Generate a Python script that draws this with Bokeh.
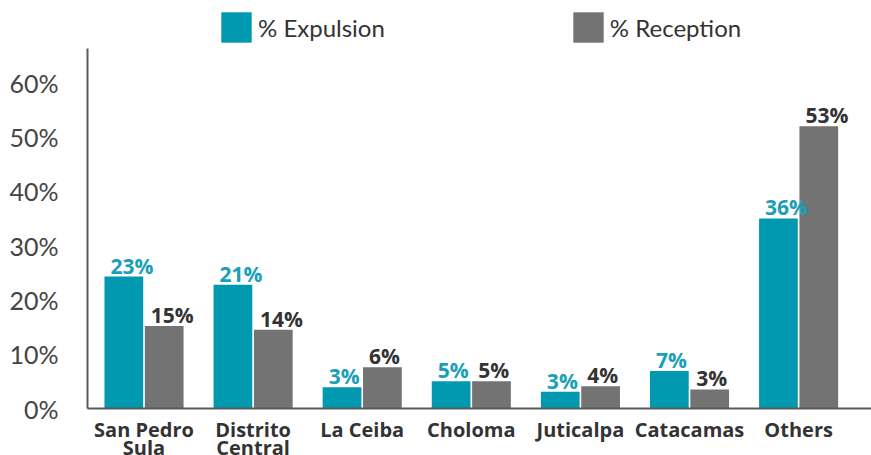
from bokeh.plotting import figure
from bokeh.models import (ColumnDataSource, Range1d, FixedTicker, NumeralTickFormatter,
                          Legend, LegendItem)
from bokeh.transform import dodge
from bokeh.core.properties import value
from bokeh.embed import file_html
from bokeh.resources import INLINE

# ---- data ----
categories = ["San Pedro\nSula", "Distrito\nCentral", "La Ceiba", "Choloma",
              "Juticalpa", "Catacamas", "Others"]
expulsion = [0.243, 0.228, 0.039, 0.050, 0.031, 0.069, 0.350]
reception = [0.152, 0.145, 0.076, 0.050, 0.041, 0.035, 0.520]
expulsion_labels = ["23%", "21%", "3%", "5%", "3%", "7%", "36%"]
reception_labels = ["15%", "14%", "6%", "5%", "4%", "3%", "53%"]
y_ticks = [0, 0.1, 0.2, 0.3, 0.4, 0.5, 0.6]

TEAL = "#0099b0"
GRAY = "#737373"
FONT = "Lato"
BOLD = "Open Sans"

idx = list(range(len(categories)))
src = ColumnDataSource(dict(x=idx, exp=expulsion, rec=reception,
                            exp_lab=expulsion_labels, rec_lab=reception_labels))

p = figure(frame_width=784, frame_height=408, output_backend="svg", toolbar_location=None,
           x_range=Range1d(-0.518, 6.668), y_range=Range1d(0, 0.7514),
           min_border_left=87, min_border_right=0, min_border_top=0, min_border_bottom=40)

bw = 0.355
off = 0.185
r_exp = p.vbar(x=dodge("x", -off, range=p.x_range), top="exp", width=bw, source=src,
               fill_color=TEAL, line_color=None)
r_rec = p.vbar(x=dodge("x", off, range=p.x_range), top="rec", width=bw, source=src,
               fill_color=GRAY, line_color=None)

p.text(x=dodge("x", -off - bw / 2, range=p.x_range), y="exp", text="exp_lab", source=src,
       x_offset=6, y_offset=3, text_align="left", text_baseline="bottom",
       text_font=value(BOLD), text_font_style="bold", text_font_size="21px",
       text_color="#1a9fb8")
p.text(x=dodge("x", off - bw / 2, range=p.x_range), y="rec", text="rec_lab", source=src,
       x_offset=6, y_offset=3, text_align="left", text_baseline="bottom",
       text_font=value(BOLD), text_font_style="bold", text_font_size="21px",
       text_color="#333333")

# axes
p.xaxis.ticker = FixedTicker(ticks=idx)
p.xaxis.major_label_overrides = {i: c for i, c in zip(idx, categories)}
p.xaxis.major_label_text_font = BOLD
p.xaxis.major_label_text_font_style = "bold"
p.xaxis.major_label_text_font_size = "20px"
p.xaxis.major_label_text_color = "#333333"
p.xaxis.major_label_text_line_height = 0.7
p.xaxis.major_label_standoff = 1
p.xaxis.major_tick_line_color = None
p.xaxis.minor_tick_line_color = None
p.xaxis.axis_line_color = "#5a5a5a"
p.xaxis.axis_line_width = 2

p.yaxis.ticker = FixedTicker(ticks=y_ticks)
p.yaxis.formatter = NumeralTickFormatter(format="0%")
p.yaxis.bounds = (0, 0.663)
p.yaxis.major_label_text_font = FONT
p.yaxis.major_label_text_font_size = "25px"
p.yaxis.major_label_text_color = "#444444"
p.yaxis.major_label_standoff = 23
p.yaxis.major_tick_line_color = None
p.yaxis.minor_tick_line_color = None
p.yaxis.axis_line_color = "#5a5a5a"
p.yaxis.axis_line_width = 2

p.xgrid.grid_line_color = None
p.ygrid.grid_line_color = None
p.outline_line_color = None

legend = Legend(items=[LegendItem(label="% Expulsion", renderers=[r_exp]),
                       LegendItem(label="% Reception", renderers=[r_rec])],
                orientation="horizontal", location=(130, 362),
                glyph_width=38, glyph_height=38, label_standoff=3, spacing=184,
                label_text_font=FONT, label_text_font_size="24px",
                label_text_color="#333333", border_line_color=None,
                background_fill_alpha=0,
                padding=5, margin=0, label_height=30)
p.add_layout(legend)

open("out.html", "w").write(file_html(p, INLINE))
